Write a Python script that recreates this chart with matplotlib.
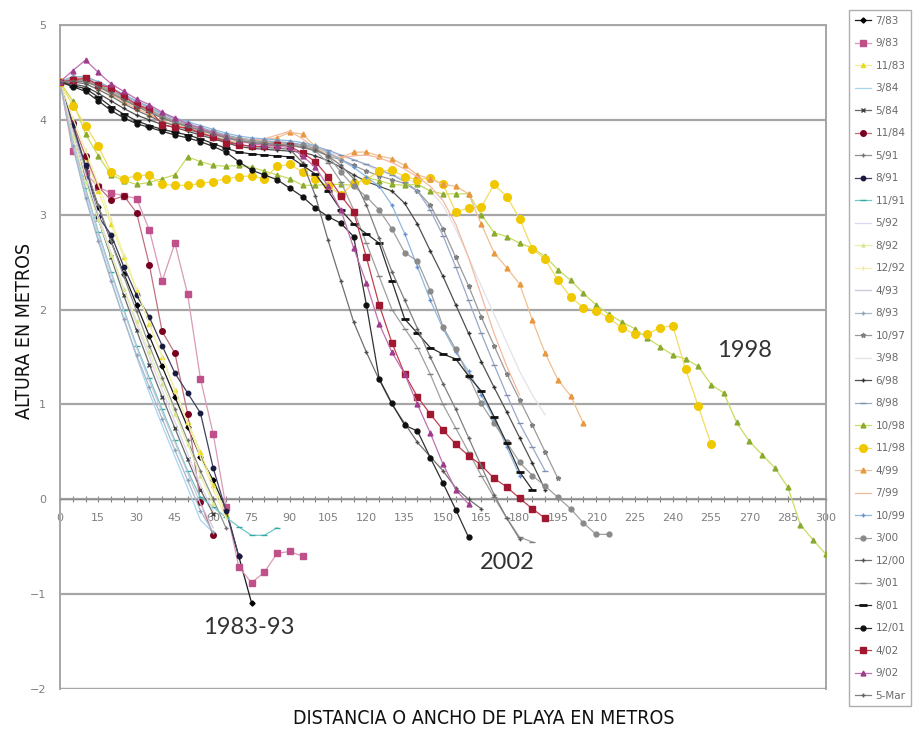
import matplotlib
matplotlib.use("Agg")
import matplotlib.pyplot as plt

# ---------- data (altura en metros cada 5 m de distancia) ----------
STEP = 5
X_MAX = 300

S_0783 = [4.40, 3.95, 3.50, 3.08, 2.72, 2.38, 2.05, 1.72, 1.40, 1.08, 0.76, 0.45, 0.20, -0.10, -0.60, -1.09]
S_0983 = [4.40, 3.67, 3.44, 3.29, 3.23, 3.20, 3.17, 2.84, 2.30, 2.70, 2.16, 1.27, 0.69, -0.08, -0.71, -0.88,
          -0.77, -0.57, -0.55, -0.60]
S_1183 = [4.40, 3.98, 3.60, 3.25, 2.90, 2.55, 2.20, 1.85, 1.50, 1.15, 0.82, 0.50, 0.15, -0.15]
S_0384 = [4.40, 3.75, 3.20, 2.75, 2.32, 1.90, 1.50, 1.12, 0.78, 0.45, 0.12, -0.22, -0.35]
S_0584 = [4.40, 3.90, 3.40, 2.95, 2.55, 2.15, 1.78, 1.42, 1.08, 0.75, 0.42, 0.10, -0.15]
S_1184 = [4.40, 3.97, 3.62, 3.30, 3.15, 3.20, 3.02, 2.47, 1.77, 1.54, 0.90, -0.03, -0.38]
S_0591 = [4.40, 3.92, 3.50, 3.10, 2.72, 2.35, 1.98, 1.62, 1.28, 0.95, 0.62, 0.30, 0.00, -0.30]
S_0891 = [4.40, 3.95, 3.52, 2.98, 2.79, 2.45, 2.15, 1.92, 1.62, 1.33, 1.12, 0.91, 0.33, -0.12, -0.60]
S_1191 = [4.40, 3.80, 3.28, 2.82, 2.40, 2.00, 1.62, 1.28, 0.95, 0.62, 0.30, 0.02, -0.08, -0.19, -0.29, -0.38,
          -0.38, -0.30]
S_0592 = [4.40, 3.88, 3.42, 3.00, 2.60, 2.22, 1.85, 1.50, 1.15, 0.82, 0.48, 0.15, -0.12]
S_0892 = [4.40, 3.82, 3.35, 2.95, 2.58, 2.22, 1.88, 1.55, 1.22, 0.90, 0.58, 0.25, -0.05]
S_1292 = [4.40, 4.02, 3.68, 3.32, 2.95, 2.58, 2.22, 1.85, 1.50, 1.15, 0.80, 0.45, 0.10, -0.20]
S_0493 = [4.40, 3.78, 3.25, 2.80, 2.38, 1.98, 1.60, 1.25, 0.92, 0.60, 0.28, -0.05, -0.30]
S_0893 = [4.40, 3.72, 3.18, 2.72, 2.30, 1.90, 1.52, 1.18, 0.85, 0.52, 0.20, -0.12, -0.35]

S_1097 = [4.40, 4.42, 4.40, 4.36, 4.30, 4.22, 4.16, 4.10, 4.03, 3.98, 3.94, 3.90, 3.86, 3.82, 3.79, 3.77,
          3.76, 3.75, 3.74, 3.72, 3.68, 3.62, 3.58, 3.52, 3.46, 3.41, 3.37, 3.33, 3.25, 3.10, 2.85, 2.55,
          2.25, 1.92, 1.62, 1.32, 1.05, 0.78, 0.50, 0.22]
S_0398 = [4.40, 4.44, 4.42, 4.38, 4.32, 4.25, 4.18, 4.12, 4.05, 4.00, 3.95, 3.91, 3.87, 3.83, 3.80, 3.78,
          3.77, 3.76, 3.75, 3.73, 3.70, 3.66, 3.62, 3.58, 3.52, 3.46, 3.42, 3.38, 3.33, 3.25, 3.10, 2.85,
          2.55, 2.25, 1.95, 1.65, 1.35, 1.10, 0.89]
S_0698 = [4.40, 4.38, 4.35, 4.28, 4.20, 4.12, 4.05, 4.00, 3.95, 3.92, 3.88, 3.84, 3.80, 3.76, 3.72, 3.70,
          3.69, 3.68, 3.67, 3.66, 3.62, 3.57, 3.50, 3.42, 3.35, 3.30, 3.25, 3.12, 2.90, 2.62, 2.35, 2.05,
          1.75, 1.45, 1.18, 0.92, 0.65, 0.38, 0.10]
S_0898 = [4.40, 4.45, 4.46, 4.40, 4.33, 4.26, 4.19, 4.13, 4.06, 4.01, 3.96, 3.92, 3.88, 3.84, 3.81, 3.79,
          3.78, 3.77, 3.76, 3.74, 3.72, 3.68, 3.63, 3.58, 3.53, 3.48, 3.42, 3.35, 3.25, 3.05, 2.78, 2.45,
          2.10, 1.75, 1.42, 1.10, 0.80, 0.55, 0.30]
S_1098 = [4.40, 4.20, 3.85, 3.62, 3.42, 3.36, 3.32, 3.34, 3.38, 3.42, 3.61, 3.56, 3.52, 3.51, 3.52, 3.50,
          3.46, 3.42, 3.38, 3.31, 3.31, 3.32, 3.32, 3.31, 3.39, 3.36, 3.32, 3.31, 3.32, 3.25, 3.22, 3.22,
          3.22, 3.00, 2.81, 2.77, 2.70, 2.65, 2.56, 2.42, 2.31, 2.17, 2.05, 1.95, 1.87, 1.80, 1.70, 1.61,
          1.52, 1.48, 1.40, 1.21, 1.12, 0.81, 0.61, 0.47, 0.33, 0.13, -0.27, -0.43, -0.58]
S_1198 = [4.40, 4.15, 3.94, 3.72, 3.45, 3.38, 3.41, 3.42, 3.32, 3.31, 3.31, 3.33, 3.35, 3.38, 3.40, 3.41,
          3.38, 3.51, 3.53, 3.45, 3.38, 3.30, 3.21, 3.33, 3.37, 3.46, 3.47, 3.40, 3.37, 3.39, 3.32, 3.03,
          3.07, 3.08, 3.32, 3.19, 2.96, 2.64, 2.53, 2.31, 2.13, 2.02, 1.99, 1.91, 1.81, 1.74, 1.74, 1.81,
          1.83, 1.37, 0.98, 0.58]
S_0499 = [4.40, 4.45, 4.42, 4.35, 4.27, 4.19, 4.12, 4.06, 3.99, 3.95, 3.91, 3.87, 3.83, 3.79, 3.76, 3.76,
          3.79, 3.81, 3.87, 3.85, 3.72, 3.64, 3.60, 3.66, 3.66, 3.62, 3.59, 3.52, 3.42, 3.38, 3.32, 3.30,
          3.22, 2.90, 2.60, 2.44, 2.27, 1.89, 1.54, 1.26, 1.09, 0.80]
S_0799 = [4.40, 4.45, 4.44, 4.38, 4.30, 4.22, 4.15, 4.09, 4.02, 3.97, 3.93, 3.89, 3.86, 3.82, 3.80, 3.79,
          3.80, 3.84, 3.88, 3.80, 3.70, 3.62, 3.60, 3.62, 3.63, 3.60, 3.55, 3.48, 3.40, 3.30, 3.15, 2.90,
          2.55, 2.15, 1.75, 1.40, 1.10]
S_1099 = [4.40, 4.46, 4.45, 4.40, 4.34, 4.27, 4.20, 4.14, 4.07, 4.02, 3.98, 3.94, 3.90, 3.86, 3.83, 3.81,
          3.80, 3.79, 3.78, 3.76, 3.73, 3.66, 3.58, 3.50, 3.40, 3.30, 3.10, 2.80, 2.45, 2.10, 1.80, 1.55,
          1.35, 1.10, 0.85, 0.55, 0.25]
S_0300 = [4.40, 4.43, 4.42, 4.37, 4.31, 4.24, 4.17, 4.11, 4.04, 3.99, 3.95, 3.91, 3.87, 3.83, 3.80, 3.78,
          3.77, 3.76, 3.75, 3.73, 3.70, 3.62, 3.45, 3.30, 3.19, 3.05, 2.85, 2.60, 2.51, 2.20, 1.82, 1.58,
          1.30, 1.01, 0.80, 0.60, 0.39, 0.25, 0.14, 0.02, -0.10, -0.25, -0.37, -0.37]
S_1200 = [4.40, 4.40, 4.38, 4.32, 4.25, 4.17, 4.10, 4.04, 3.98, 3.94, 3.90, 3.86, 3.82, 3.78, 3.74, 3.72,
          3.71, 3.70, 3.69, 3.55, 3.20, 2.73, 2.30, 1.87, 1.55, 1.26, 1.00, 0.80, 0.60, 0.45, 0.30, 0.12,
          0.00, -0.10]
S_0301 = [4.40, 4.42, 4.41, 4.36, 4.29, 4.22, 4.15, 4.09, 4.02, 3.97, 3.93, 3.89, 3.85, 3.81, 3.78, 3.76,
          3.75, 3.74, 3.73, 3.71, 3.67, 3.55, 3.35, 3.05, 2.70, 2.35, 2.00, 1.80, 1.60, 1.32, 1.00, 0.75,
          0.50, 0.25, 0.02, -0.20, -0.40, -0.45]
S_0801 = [4.40, 4.36, 4.33, 4.24, 4.14, 4.06, 3.99, 3.94, 3.90, 3.87, 3.84, 3.80, 3.75, 3.70, 3.66, 3.64,
          3.63, 3.62, 3.61, 3.52, 3.43, 3.25, 3.05, 2.90, 2.80, 2.70, 2.30, 1.90, 1.75, 1.60, 1.53, 1.48,
          1.30, 1.14, 0.87, 0.59, 0.29, 0.10]
S_1201 = [4.40, 4.35, 4.30, 4.20, 4.10, 4.02, 3.96, 3.92, 3.88, 3.84, 3.81, 3.77, 3.72, 3.66, 3.56, 3.47,
          3.42, 3.37, 3.28, 3.19, 3.07, 2.98, 2.91, 2.77, 2.05, 1.27, 1.01, 0.78, 0.72, 0.44, 0.17, -0.11,
          -0.40]
S_0402 = [4.40, 4.42, 4.44, 4.37, 4.34, 4.25, 4.16, 4.11, 3.95, 3.92, 3.92, 3.86, 3.82, 3.76, 3.74, 3.72,
          3.72, 3.74, 3.72, 3.65, 3.56, 3.40, 3.20, 3.03, 2.55, 2.05, 1.65, 1.32, 1.08, 0.90, 0.73, 0.58,
          0.46, 0.36, 0.22, 0.13, 0.01, -0.10, -0.20]
S_0902 = [4.40, 4.52, 4.63, 4.50, 4.38, 4.30, 4.22, 4.16, 4.08, 4.02, 3.96, 3.91, 3.86, 3.82, 3.78, 3.75,
          3.73, 3.72, 3.71, 3.62, 3.50, 3.30, 3.05, 2.65, 2.28, 1.85, 1.55, 1.32, 1.00, 0.70, 0.37, 0.10,
          -0.05]
S_05MAR = [4.40, 4.41, 4.40, 4.35, 4.28, 4.21, 4.14, 4.08, 4.02, 3.97, 3.93, 3.89, 3.85, 3.81, 3.78, 3.76,
           3.75, 3.74, 3.73, 3.71, 3.68, 3.62, 3.52, 3.38, 3.10, 2.75, 2.40, 2.10, 1.80, 1.50, 1.22, 0.95,
           0.65, 0.35, 0.05, -0.20, -0.42]

LABELS = ["7/83", "9/83", "11/83", "3/84", "5/84", "11/84", "5/91", "8/91", "11/91", "5/92", "8/92",
          "12/92", "4/93", "8/93", "10/97", "3/98", "6/98", "8/98", "10/98", "11/98", "4/99", "7/99",
          "10/99", "3/00", "12/00", "3/01", "8/01", "12/01", "4/02", "9/02", "5-Mar"]
SERIES = [S_0783, S_0983, S_1183, S_0384, S_0584, S_1184, S_0591, S_0891, S_1191, S_0592, S_0892,
          S_1292, S_0493, S_0893, S_1097, S_0398, S_0698, S_0898, S_1098, S_1198, S_0499, S_0799,
          S_1099, S_0300, S_1200, S_0301, S_0801, S_1201, S_0402, S_0902, S_05MAR]

# estilo: (color línea, color marcador, marcador, tamaño)
STYLES = [
    ("#1a1a1a", "#000000", "D", 2.6),
    ("#d99ab8", "#c0508a", "s", 4.0),
    ("#f2ee90", "#e8dc20", "^", 3.0),
    ("#a8d4f0", "#a8d4f0", "", 0),
    ("#6a6a6a", "#404040", "x", 2.6),
    ("#c07080", "#7a0020", "o", 4.0),
    ("#909090", "#707070", "+", 3.0),
    ("#404060", "#1a1a40", "o", 3.2),
    ("#70c8c8", "#3aa8a8", "_", 4.0),
    ("#ddd6f0", "#ddd6f0", "", 0),
    ("#e6f0a8", "#d8e890", "^", 2.2),
    ("#f4f0b0", "#ece8a0", "|", 2.5),
    ("#c8c8d8", "#c8c8d8", "", 0),
    ("#a8b8c8", "#90a0b8", "+", 2.5),
    ("#9a9a9a", "#808080", "*", 3.5),
    ("#e2e2ea", "#e2e2ea", "", 0),
    ("#505050", "#303030", "+", 3.0),
    ("#9aa8c8", "#8090b0", "_", 4.0),
    ("#c8dc60", "#8aaa30", "^", 3.5),
    ("#f4dc60", "#f0c800", "o", 5.5),
    ("#f0c090", "#e89840", "^", 3.5),
    ("#f4b8a0", "#f4b8a0", "", 0),
    ("#90b8e0", "#6090d0", "+", 3.0),
    ("#a0a0a0", "#8a8a8a", "o", 3.5),
    ("#707070", "#505050", "+", 3.0),
    ("#a0a0a0", "#808080", "_", 4.0),
    ("#303030", "#101010", "_", 6.0),
    ("#303030", "#101010", "o", 3.5),
    ("#c04050", "#a01830", "s", 5.0),
    ("#c070b0", "#a03c8c", "^", 3.5),
    ("#808080", "#606060", "+", 3.0),
]

GRAY = "#a6a6a6"
TXT = "#7f7f7f"

fig = plt.figure(figsize=(9.15, 7.37), dpi=100, facecolor="white")
ax = fig.add_axes([60 / 915, 1 - 689 / 737, 766 / 915, 664 / 737])

for i, (lab, ys, (lc, mc, mk, ms)) in enumerate(zip(LABELS, SERIES, STYLES)):
    xs = [STEP * k for k in range(len(ys))]
    ax.plot(xs, ys, color=lc, lw=0.9, marker=mk if mk else None, ms=ms,
            mfc=mc, mec=mc, mew=2.0 if mk == "_" and ms > 5 else 1.0,
            label=lab, zorder=3 + i * 0.01)

ax.set_xlim(0, X_MAX)
ax.set_ylim(-2, 5)
ax.set_yticks(range(-2, 6))
ax.yaxis.grid(True, color=GRAY, lw=1.6)
ax.set_axisbelow(True)
ax.tick_params(axis="y", length=0, labelsize=8, labelcolor=TXT, pad=10)

ticks = list(range(0, X_MAX + 1, STEP))
ax.set_xticks(ticks)
ax.set_xticklabels([str(t) if t % 15 == 0 else "" for t in ticks])
ax.spines["bottom"].set_position(("data", 0))
ax.tick_params(axis="x", direction="inout", length=4, width=0.8, color=TXT,
               labelsize=8, labelcolor=TXT, pad=8)
for side in ["left", "right", "top", "bottom"]:
    ax.spines[side].set_color(GRAY)
    ax.spines[side].set_linewidth(1.4)
ax.spines["bottom"].set_color("#8c8c8c")
ax.spines["bottom"].set_linewidth(1.0)
ax.axhline(-2, color=GRAY, lw=1.6, zorder=1)

ann_kw = dict(fontsize=17, color="#333333", family=["Lato", "DejaVu Sans"])
ax.text(74, -1.35, "1983-93", ha="center", va="center", **ann_kw)
ax.text(175, -0.67, "2002", ha="center", va="center", **ann_kw)
ax.text(268, 1.57, "1998", ha="center", va="center", **ann_kw)

lab_kw = dict(fontsize=14, color="#111111", family=["DejaVu Sans"], fontstretch="condensed")
fig.text(25 / 915, 1 - 331 / 737, "ALTURA EN METROS", rotation=90, ha="center", va="center", **lab_kw)
fig.text(484 / 915, 1 - 718 / 737, "DISTANCIA O ANCHO DE PLAYA EN METROS", ha="center", va="center",
         **lab_kw)

leg = fig.legend(loc="upper left", bbox_to_anchor=(849 / 915, 1 - 10 / 737), frameon=True,
                 fancybox=False, fontsize=7.5, handlelength=1.6, handletextpad=0.4,
                 labelspacing=1.2, borderpad=0.55, borderaxespad=0, numpoints=1)
leg.get_frame().set_edgecolor("#9a9a9a")
leg.get_frame().set_linewidth(1.0)
for t in leg.get_texts():
    t.set_color("#6a6a6a")

fig.savefig("out.png", dpi=100, facecolor="white")
